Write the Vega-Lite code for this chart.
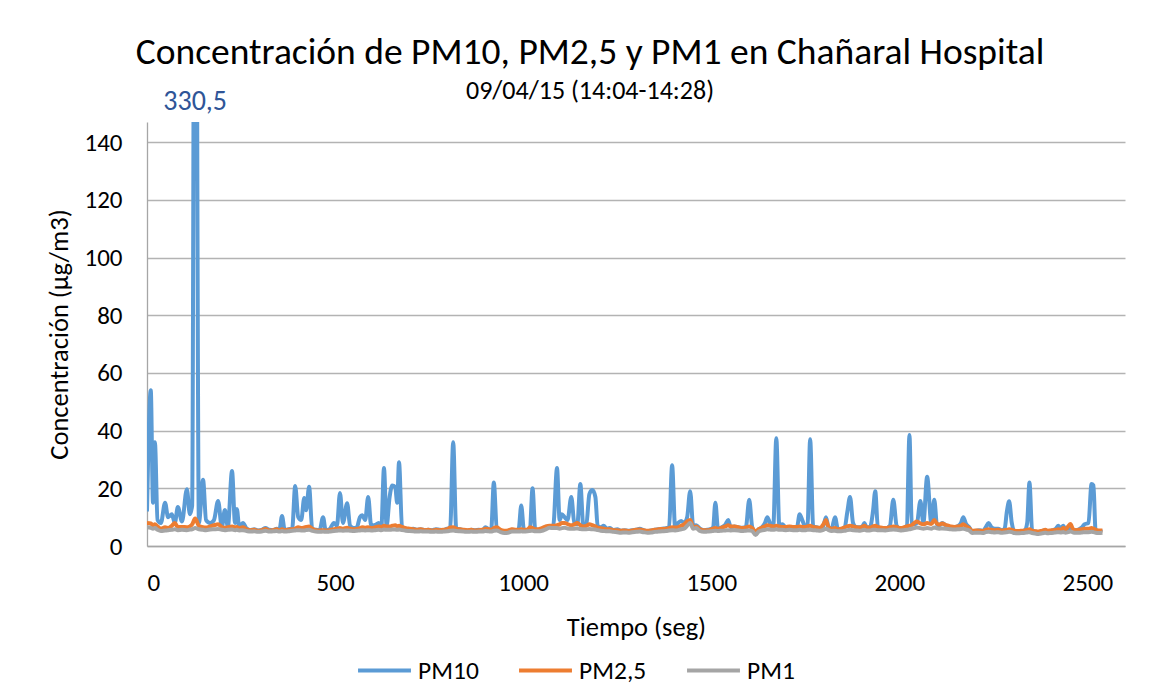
{
  "$schema": "https://vega.github.io/schema/vega-lite/v6.json",
  "width": 978,
  "height": 424,
  "autosize": {"type": "none"},
  "padding": {"left": 147, "top": 122, "right": 29, "bottom": 144},
  "background": "white",
  "title": {
    "text": "Concentración de PM10, PM2,5 y PM1 en Chañaral Hospital",
    "subtitle": "09/04/15 (14:04-14:28)",
    "anchor": "middle",
    "dx": -46,
    "offset": -16,
    "subtitlePadding": 7,
    "font": "Carlito, Lato, sans-serif",
    "subtitleFont": "Carlito, Lato, sans-serif",
    "fontSize": 37.5,
    "subtitleFontSize": 26,
    "fontWeight": "normal",
    "color": "#000000",
    "subtitleColor": "#000000"
  },
  "config": {
    "view": {"stroke": null},
    "font": "Carlito, Lato, sans-serif",
    "axis": {
      "labelFont": "Carlito, Lato, sans-serif",
      "titleFont": "Carlito, Lato, sans-serif",
      "labelFontSize": 25,
      "titleFontSize": 26.5,
      "titleFontWeight": "normal",
      "labelColor": "#000000",
      "titleColor": "#000000",
      "domainColor": "#A6A6A6",
      "domainWidth": 1.3,
      "ticks": false
    },
    "legend": {
      "labelFont": "Carlito, Lato, sans-serif",
      "labelFontSize": 25.5,
      "labelColor": "#000000"
    }
  },
  "datasets": {
    "pm": [
      {"t": 0, "PM10": 12, "PM25": 8, "PM1": 6.5},
      {"t": 10, "PM10": 54, "PM25": 7.8, "PM1": 6.3},
      {"t": 16, "PM10": 15, "PM25": 7.2, "PM1": 6},
      {"t": 21, "PM10": 36, "PM25": 7.5, "PM1": 6.2},
      {"t": 28, "PM10": 9, "PM25": 6.8, "PM1": 5.6},
      {"t": 37, "PM10": 8, "PM25": 6, "PM1": 5.2},
      {"t": 48, "PM10": 15, "PM25": 6.5, "PM1": 5.4},
      {"t": 56, "PM10": 10, "PM25": 6.2, "PM1": 5.5},
      {"t": 66, "PM10": 11, "PM25": 7, "PM1": 5.6},
      {"t": 74, "PM10": 8, "PM25": 8, "PM1": 5.8},
      {"t": 82, "PM10": 13.5, "PM25": 6.5, "PM1": 5.5},
      {"t": 93, "PM10": 8.5, "PM25": 6.6, "PM1": 5.6},
      {"t": 106, "PM10": 19.7, "PM25": 6.5, "PM1": 5.5},
      {"t": 114, "PM10": 11, "PM25": 6.8, "PM1": 5.7},
      {"t": 120, "PM10": 14, "PM25": 7.5, "PM1": 5.8},
      {"t": 128, "PM10": 330.5, "PM25": 9.5, "PM1": 6.2},
      {"t": 138, "PM10": 8, "PM25": 7, "PM1": 5.8},
      {"t": 149, "PM10": 23, "PM25": 6.5, "PM1": 5.6},
      {"t": 157, "PM10": 9, "PM25": 6.4, "PM1": 5.5},
      {"t": 168, "PM10": 8, "PM25": 6.8, "PM1": 5.7},
      {"t": 178, "PM10": 9, "PM25": 7.2, "PM1": 5.8},
      {"t": 189, "PM10": 15.6, "PM25": 7.5, "PM1": 5.9},
      {"t": 199, "PM10": 6.6, "PM25": 6.6, "PM1": 5.6},
      {"t": 207, "PM10": 12.5, "PM25": 6.3, "PM1": 5.5},
      {"t": 215, "PM10": 6.6, "PM25": 6.5, "PM1": 5.6},
      {"t": 226, "PM10": 26, "PM25": 6.8, "PM1": 5.7},
      {"t": 234, "PM10": 8, "PM25": 6.5, "PM1": 5.5},
      {"t": 239, "PM10": 12.8, "PM25": 6.6, "PM1": 5.6},
      {"t": 245, "PM10": 6.6, "PM25": 6.2, "PM1": 5.4},
      {"t": 255, "PM10": 8, "PM25": 6.5, "PM1": 5.5},
      {"t": 265, "PM10": 6, "PM25": 5.8, "PM1": 5.2},
      {"t": 275, "PM10": 5.5, "PM25": 5.5, "PM1": 5},
      {"t": 285, "PM10": 5.8, "PM25": 5.6, "PM1": 5.1},
      {"t": 295, "PM10": 5.4, "PM25": 5.3, "PM1": 4.9},
      {"t": 305, "PM10": 5.6, "PM25": 5.5, "PM1": 5},
      {"t": 315, "PM10": 6.2, "PM25": 5.9, "PM1": 5.3},
      {"t": 325, "PM10": 5.6, "PM25": 5.4, "PM1": 5},
      {"t": 335, "PM10": 5.5, "PM25": 5.5, "PM1": 5.1},
      {"t": 345, "PM10": 6, "PM25": 5.8, "PM1": 5.2},
      {"t": 352, "PM10": 5.6, "PM25": 5.4, "PM1": 5},
      {"t": 359, "PM10": 10.4, "PM25": 5.8, "PM1": 5.2},
      {"t": 366, "PM10": 5.5, "PM25": 5.5, "PM1": 5},
      {"t": 376, "PM10": 5.8, "PM25": 5.6, "PM1": 5.1},
      {"t": 386, "PM10": 6, "PM25": 5.8, "PM1": 5.3},
      {"t": 394, "PM10": 20.8, "PM25": 6, "PM1": 5.4},
      {"t": 402, "PM10": 10, "PM25": 6.5, "PM1": 5.5},
      {"t": 410, "PM10": 9, "PM25": 6.2, "PM1": 5.4},
      {"t": 418, "PM10": 16.6, "PM25": 6.4, "PM1": 5.4},
      {"t": 423, "PM10": 12.4, "PM25": 6.6, "PM1": 5.5},
      {"t": 431, "PM10": 20.5, "PM25": 6.8, "PM1": 5.6},
      {"t": 439, "PM10": 6, "PM25": 6, "PM1": 5.3},
      {"t": 449, "PM10": 5.6, "PM25": 5.5, "PM1": 5},
      {"t": 459, "PM10": 5.5, "PM25": 5.4, "PM1": 4.9},
      {"t": 468, "PM10": 10, "PM25": 5.5, "PM1": 5},
      {"t": 475, "PM10": 5.5, "PM25": 5.4, "PM1": 4.9},
      {"t": 485, "PM10": 5.8, "PM25": 5.5, "PM1": 5},
      {"t": 497, "PM10": 8, "PM25": 5.8, "PM1": 5.2},
      {"t": 505, "PM10": 7, "PM25": 6, "PM1": 5.3},
      {"t": 513, "PM10": 18.4, "PM25": 6.2, "PM1": 5.4},
      {"t": 521, "PM10": 8, "PM25": 6, "PM1": 5.3},
      {"t": 532, "PM10": 14.8, "PM25": 6.3, "PM1": 5.4},
      {"t": 540, "PM10": 7, "PM25": 6, "PM1": 5.3},
      {"t": 550, "PM10": 6.2, "PM25": 5.8, "PM1": 5.2},
      {"t": 558, "PM10": 6.5, "PM25": 5.9, "PM1": 5.3},
      {"t": 566, "PM10": 10, "PM25": 6.2, "PM1": 5.4},
      {"t": 572, "PM10": 10.7, "PM25": 6.5, "PM1": 5.5},
      {"t": 580, "PM10": 9, "PM25": 6.3, "PM1": 5.4},
      {"t": 588, "PM10": 17, "PM25": 6.5, "PM1": 5.5},
      {"t": 596, "PM10": 7, "PM25": 6.2, "PM1": 5.4},
      {"t": 607, "PM10": 7.3, "PM25": 6.5, "PM1": 5.5},
      {"t": 616, "PM10": 8, "PM25": 6.8, "PM1": 5.6},
      {"t": 623, "PM10": 6.5, "PM25": 6.6, "PM1": 5.5},
      {"t": 630, "PM10": 27, "PM25": 7, "PM1": 5.7},
      {"t": 637, "PM10": 7, "PM25": 6.8, "PM1": 5.6},
      {"t": 645, "PM10": 17, "PM25": 6.8, "PM1": 5.6},
      {"t": 652, "PM10": 21, "PM25": 7, "PM1": 5.7},
      {"t": 660, "PM10": 20.5, "PM25": 7.2, "PM1": 5.7},
      {"t": 665, "PM10": 15, "PM25": 6.8, "PM1": 5.6},
      {"t": 670, "PM10": 29, "PM25": 7, "PM1": 5.7},
      {"t": 678, "PM10": 6.5, "PM25": 6.6, "PM1": 5.5},
      {"t": 688, "PM10": 6, "PM25": 6.2, "PM1": 5.3},
      {"t": 698, "PM10": 5.8, "PM25": 6, "PM1": 5.2},
      {"t": 708, "PM10": 6, "PM25": 5.8, "PM1": 5.1},
      {"t": 718, "PM10": 5.6, "PM25": 5.6, "PM1": 5},
      {"t": 728, "PM10": 5.8, "PM25": 5.8, "PM1": 5.1},
      {"t": 738, "PM10": 5.5, "PM25": 5.5, "PM1": 5},
      {"t": 748, "PM10": 5.6, "PM25": 5.6, "PM1": 5},
      {"t": 758, "PM10": 5.5, "PM25": 5.4, "PM1": 4.9},
      {"t": 768, "PM10": 5.8, "PM25": 5.6, "PM1": 5},
      {"t": 778, "PM10": 5.6, "PM25": 5.5, "PM1": 4.9},
      {"t": 788, "PM10": 5.5, "PM25": 5.6, "PM1": 5},
      {"t": 798, "PM10": 6, "PM25": 5.8, "PM1": 5.1},
      {"t": 806, "PM10": 6.2, "PM25": 6.4, "PM1": 5.3},
      {"t": 814, "PM10": 36, "PM25": 6.5, "PM1": 5.4},
      {"t": 822, "PM10": 6, "PM25": 6, "PM1": 5.2},
      {"t": 832, "PM10": 5.8, "PM25": 5.8, "PM1": 5.1},
      {"t": 842, "PM10": 5.5, "PM25": 5.6, "PM1": 5},
      {"t": 852, "PM10": 5.4, "PM25": 5.5, "PM1": 4.9},
      {"t": 862, "PM10": 5.6, "PM25": 5.6, "PM1": 5},
      {"t": 872, "PM10": 5.5, "PM25": 5.4, "PM1": 4.9},
      {"t": 882, "PM10": 5.6, "PM25": 5.5, "PM1": 5},
      {"t": 892, "PM10": 5.5, "PM25": 5.6, "PM1": 5},
      {"t": 900, "PM10": 6.5, "PM25": 6, "PM1": 5.2},
      {"t": 908, "PM10": 5.8, "PM25": 5.8, "PM1": 5.1},
      {"t": 915, "PM10": 5.5, "PM25": 5.6, "PM1": 5},
      {"t": 922, "PM10": 22, "PM25": 6.2, "PM1": 5.3},
      {"t": 930, "PM10": 6, "PM25": 6.5, "PM1": 5.4},
      {"t": 940, "PM10": 5.2, "PM25": 5.6, "PM1": 4.8},
      {"t": 950, "PM10": 5, "PM25": 5.3, "PM1": 4.5},
      {"t": 960, "PM10": 5.2, "PM25": 5.4, "PM1": 4.6},
      {"t": 970, "PM10": 5.6, "PM25": 5.8, "PM1": 5},
      {"t": 980, "PM10": 5.5, "PM25": 5.6, "PM1": 5},
      {"t": 988, "PM10": 5.8, "PM25": 5.6, "PM1": 5},
      {"t": 995, "PM10": 14, "PM25": 5.8, "PM1": 5.1},
      {"t": 1002, "PM10": 5.6, "PM25": 5.6, "PM1": 5},
      {"t": 1012, "PM10": 5.5, "PM25": 5.7, "PM1": 5.1},
      {"t": 1018, "PM10": 6, "PM25": 6.5, "PM1": 5.2},
      {"t": 1025, "PM10": 20, "PM25": 6.2, "PM1": 5.3},
      {"t": 1032, "PM10": 5.8, "PM25": 5.8, "PM1": 5.1},
      {"t": 1040, "PM10": 5.6, "PM25": 5.8, "PM1": 5.1},
      {"t": 1050, "PM10": 6, "PM25": 6.2, "PM1": 5.3},
      {"t": 1060, "PM10": 6.5, "PM25": 6.8, "PM1": 5.8},
      {"t": 1070, "PM10": 6.8, "PM25": 7, "PM1": 6.3},
      {"t": 1080, "PM10": 7, "PM25": 7, "PM1": 6.2},
      {"t": 1090, "PM10": 27, "PM25": 7.2, "PM1": 6.2},
      {"t": 1097, "PM10": 9, "PM25": 7.5, "PM1": 6},
      {"t": 1103, "PM10": 11, "PM25": 8, "PM1": 6.2},
      {"t": 1110, "PM10": 10, "PM25": 8, "PM1": 6.3},
      {"t": 1118, "PM10": 9, "PM25": 7.6, "PM1": 6.1},
      {"t": 1128, "PM10": 17, "PM25": 7.2, "PM1": 6},
      {"t": 1136, "PM10": 8, "PM25": 7.5, "PM1": 6},
      {"t": 1144, "PM10": 7.5, "PM25": 8, "PM1": 6.1},
      {"t": 1152, "PM10": 21.5, "PM25": 7.2, "PM1": 5.9},
      {"t": 1160, "PM10": 7, "PM25": 6.8, "PM1": 5.8},
      {"t": 1168, "PM10": 7.5, "PM25": 7, "PM1": 5.8},
      {"t": 1176, "PM10": 18, "PM25": 7.5, "PM1": 5.9},
      {"t": 1184, "PM10": 19.4, "PM25": 7.2, "PM1": 5.8},
      {"t": 1192, "PM10": 17, "PM25": 6.8, "PM1": 5.7},
      {"t": 1198, "PM10": 7, "PM25": 6.4, "PM1": 5.5},
      {"t": 1206, "PM10": 6.5, "PM25": 6.2, "PM1": 5.3},
      {"t": 1214, "PM10": 7, "PM25": 6, "PM1": 5.2},
      {"t": 1222, "PM10": 6, "PM25": 5.8, "PM1": 5.1},
      {"t": 1230, "PM10": 6.2, "PM25": 5.8, "PM1": 5.1},
      {"t": 1240, "PM10": 5.5, "PM25": 5.5, "PM1": 4.9},
      {"t": 1250, "PM10": 5.8, "PM25": 5.5, "PM1": 4.8},
      {"t": 1260, "PM10": 5.3, "PM25": 5.3, "PM1": 4.6},
      {"t": 1270, "PM10": 5.5, "PM25": 5.4, "PM1": 4.7},
      {"t": 1280, "PM10": 5.3, "PM25": 5.2, "PM1": 4.6},
      {"t": 1290, "PM10": 5.5, "PM25": 5.4, "PM1": 4.8},
      {"t": 1300, "PM10": 5.6, "PM25": 5.6, "PM1": 4.9},
      {"t": 1310, "PM10": 6, "PM25": 5.7, "PM1": 5},
      {"t": 1320, "PM10": 5.5, "PM25": 5.5, "PM1": 4.8},
      {"t": 1330, "PM10": 5.2, "PM25": 5.3, "PM1": 4.6},
      {"t": 1340, "PM10": 5.4, "PM25": 5.4, "PM1": 4.7},
      {"t": 1350, "PM10": 5.6, "PM25": 5.6, "PM1": 4.9},
      {"t": 1360, "PM10": 5.8, "PM25": 5.8, "PM1": 5},
      {"t": 1370, "PM10": 6, "PM25": 5.9, "PM1": 5.1},
      {"t": 1380, "PM10": 6.2, "PM25": 6, "PM1": 5.2},
      {"t": 1388, "PM10": 6.5, "PM25": 6.2, "PM1": 5.4},
      {"t": 1396, "PM10": 28, "PM25": 6.5, "PM1": 5.5},
      {"t": 1404, "PM10": 6.5, "PM25": 6.4, "PM1": 5.4},
      {"t": 1412, "PM10": 8, "PM25": 6.5, "PM1": 5.5},
      {"t": 1420, "PM10": 8.7, "PM25": 7, "PM1": 5.8},
      {"t": 1428, "PM10": 8, "PM25": 7.5, "PM1": 6},
      {"t": 1436, "PM10": 10, "PM25": 8.5, "PM1": 7},
      {"t": 1444, "PM10": 19, "PM25": 9, "PM1": 8},
      {"t": 1452, "PM10": 7, "PM25": 6.5, "PM1": 6},
      {"t": 1460, "PM10": 7.2, "PM25": 6.8, "PM1": 6.2},
      {"t": 1470, "PM10": 6, "PM25": 5.8, "PM1": 5.2},
      {"t": 1480, "PM10": 5.5, "PM25": 5.5, "PM1": 4.9},
      {"t": 1490, "PM10": 5.6, "PM25": 5.5, "PM1": 5},
      {"t": 1500, "PM10": 6, "PM25": 5.8, "PM1": 5.1},
      {"t": 1505, "PM10": 6.5, "PM25": 6, "PM1": 5.2},
      {"t": 1511, "PM10": 15, "PM25": 6.2, "PM1": 5.3},
      {"t": 1518, "PM10": 6, "PM25": 6, "PM1": 5.2},
      {"t": 1528, "PM10": 6.5, "PM25": 6.4, "PM1": 5.3},
      {"t": 1538, "PM10": 7.5, "PM25": 6.8, "PM1": 5.4},
      {"t": 1545, "PM10": 9, "PM25": 7.2, "PM1": 5.5},
      {"t": 1552, "PM10": 6.5, "PM25": 6.8, "PM1": 5.4},
      {"t": 1562, "PM10": 6.8, "PM25": 6.8, "PM1": 5.5},
      {"t": 1572, "PM10": 6.5, "PM25": 6.5, "PM1": 5.4},
      {"t": 1582, "PM10": 6.3, "PM25": 6.2, "PM1": 5.2},
      {"t": 1592, "PM10": 6.5, "PM25": 6.4, "PM1": 5.3},
      {"t": 1601, "PM10": 16, "PM25": 6.8, "PM1": 5.4},
      {"t": 1609, "PM10": 6.5, "PM25": 6.2, "PM1": 5.2},
      {"t": 1618, "PM10": 4.8, "PM25": 5, "PM1": 3.8},
      {"t": 1626, "PM10": 5.8, "PM25": 5.8, "PM1": 5},
      {"t": 1635, "PM10": 6.5, "PM25": 6.4, "PM1": 5.4},
      {"t": 1643, "PM10": 8, "PM25": 6.8, "PM1": 5.6},
      {"t": 1649, "PM10": 10, "PM25": 7.2, "PM1": 5.8},
      {"t": 1656, "PM10": 8, "PM25": 7, "PM1": 5.7},
      {"t": 1665, "PM10": 7, "PM25": 6.8, "PM1": 5.6},
      {"t": 1673, "PM10": 37.4, "PM25": 7, "PM1": 5.8},
      {"t": 1681, "PM10": 7, "PM25": 6.8, "PM1": 5.6},
      {"t": 1689, "PM10": 7.5, "PM25": 6.6, "PM1": 5.6},
      {"t": 1698, "PM10": 6.5, "PM25": 6.6, "PM1": 5.5},
      {"t": 1708, "PM10": 6.5, "PM25": 6.8, "PM1": 5.6},
      {"t": 1718, "PM10": 6.3, "PM25": 6.6, "PM1": 5.5},
      {"t": 1728, "PM10": 6.5, "PM25": 6.6, "PM1": 5.5},
      {"t": 1735, "PM10": 11, "PM25": 6.8, "PM1": 5.6},
      {"t": 1742, "PM10": 9, "PM25": 6.6, "PM1": 5.5},
      {"t": 1750, "PM10": 6.8, "PM25": 6.6, "PM1": 5.5},
      {"t": 1756, "PM10": 7, "PM25": 6.8, "PM1": 5.6},
      {"t": 1763, "PM10": 37, "PM25": 7, "PM1": 5.6},
      {"t": 1771, "PM10": 6.8, "PM25": 6.6, "PM1": 5.5},
      {"t": 1780, "PM10": 6.5, "PM25": 6.4, "PM1": 5.4},
      {"t": 1790, "PM10": 6.2, "PM25": 6.3, "PM1": 5.3},
      {"t": 1798, "PM10": 7, "PM25": 7.5, "PM1": 5.6},
      {"t": 1805, "PM10": 10, "PM25": 9, "PM1": 6},
      {"t": 1812, "PM10": 6.5, "PM25": 6.5, "PM1": 5.5},
      {"t": 1820, "PM10": 6, "PM25": 6, "PM1": 5.2},
      {"t": 1829, "PM10": 10, "PM25": 6.2, "PM1": 5.3},
      {"t": 1837, "PM10": 5.8, "PM25": 5.8, "PM1": 5.1},
      {"t": 1846, "PM10": 5.8, "PM25": 6, "PM1": 5.1},
      {"t": 1855, "PM10": 6.5, "PM25": 6.5, "PM1": 5.3},
      {"t": 1862, "PM10": 12, "PM25": 6.8, "PM1": 5.5},
      {"t": 1869, "PM10": 17, "PM25": 7, "PM1": 5.6},
      {"t": 1877, "PM10": 8, "PM25": 6.8, "PM1": 5.5},
      {"t": 1886, "PM10": 6.5, "PM25": 6.5, "PM1": 5.4},
      {"t": 1896, "PM10": 6.5, "PM25": 6.4, "PM1": 5.3},
      {"t": 1903, "PM10": 7, "PM25": 6.8, "PM1": 5.5},
      {"t": 1907, "PM10": 8, "PM25": 7, "PM1": 5.6},
      {"t": 1913, "PM10": 6.5, "PM25": 6.5, "PM1": 5.4},
      {"t": 1922, "PM10": 6.5, "PM25": 6.4, "PM1": 5.4},
      {"t": 1930, "PM10": 12, "PM25": 6.8, "PM1": 5.6},
      {"t": 1936, "PM10": 19, "PM25": 7, "PM1": 5.6},
      {"t": 1943, "PM10": 6.5, "PM25": 6.6, "PM1": 5.5},
      {"t": 1950, "PM10": 6.2, "PM25": 6.4, "PM1": 5.5},
      {"t": 1963, "PM10": 6, "PM25": 6.2, "PM1": 5.4},
      {"t": 1975, "PM10": 7, "PM25": 6.5, "PM1": 5.6},
      {"t": 1984, "PM10": 16, "PM25": 6.8, "PM1": 5.7},
      {"t": 1993, "PM10": 7, "PM25": 6.6, "PM1": 5.6},
      {"t": 2003, "PM10": 6, "PM25": 6.2, "PM1": 5.4},
      {"t": 2012, "PM10": 6.3, "PM25": 6.4, "PM1": 5.5},
      {"t": 2020, "PM10": 7, "PM25": 6.8, "PM1": 5.6},
      {"t": 2027, "PM10": 38.5, "PM25": 7, "PM1": 5.8},
      {"t": 2033, "PM10": 8, "PM25": 7.2, "PM1": 6},
      {"t": 2040, "PM10": 7.5, "PM25": 8, "PM1": 6.2},
      {"t": 2047, "PM10": 8, "PM25": 8.5, "PM1": 6.4},
      {"t": 2056, "PM10": 15.6, "PM25": 7.8, "PM1": 6.2},
      {"t": 2064, "PM10": 8, "PM25": 7.5, "PM1": 6},
      {"t": 2074, "PM10": 24, "PM25": 8, "PM1": 6.2},
      {"t": 2085, "PM10": 8, "PM25": 7.6, "PM1": 6},
      {"t": 2093, "PM10": 16, "PM25": 9, "PM1": 6.4},
      {"t": 2100, "PM10": 7.5, "PM25": 7.8, "PM1": 6.1},
      {"t": 2106, "PM10": 7, "PM25": 7.4, "PM1": 6},
      {"t": 2114, "PM10": 8, "PM25": 7.8, "PM1": 6.1},
      {"t": 2125, "PM10": 7, "PM25": 7.2, "PM1": 6},
      {"t": 2136, "PM10": 6.5, "PM25": 6.8, "PM1": 5.8},
      {"t": 2146, "PM10": 6.5, "PM25": 6.6, "PM1": 5.7},
      {"t": 2157, "PM10": 7, "PM25": 6.8, "PM1": 5.8},
      {"t": 2164, "PM10": 8, "PM25": 7, "PM1": 5.9},
      {"t": 2170, "PM10": 10, "PM25": 7.5, "PM1": 6},
      {"t": 2178, "PM10": 7.5, "PM25": 6.8, "PM1": 5.7},
      {"t": 2186, "PM10": 6.5, "PM25": 6.2, "PM1": 5.4},
      {"t": 2194, "PM10": 5, "PM25": 5.2, "PM1": 4.5},
      {"t": 2202, "PM10": 5.2, "PM25": 5.4, "PM1": 4.6},
      {"t": 2212, "PM10": 5.5, "PM25": 5.3, "PM1": 4.6},
      {"t": 2222, "PM10": 5.3, "PM25": 5.2, "PM1": 4.5},
      {"t": 2230, "PM10": 6.5, "PM25": 5.6, "PM1": 4.8},
      {"t": 2237, "PM10": 8, "PM25": 5.8, "PM1": 4.9},
      {"t": 2245, "PM10": 6.5, "PM25": 5.6, "PM1": 4.8},
      {"t": 2254, "PM10": 6, "PM25": 5.5, "PM1": 4.7},
      {"t": 2263, "PM10": 6, "PM25": 5.6, "PM1": 4.8},
      {"t": 2272, "PM10": 5.5, "PM25": 5.4, "PM1": 4.6},
      {"t": 2280, "PM10": 6, "PM25": 5.5, "PM1": 4.7},
      {"t": 2286, "PM10": 12, "PM25": 5.6, "PM1": 4.8},
      {"t": 2292, "PM10": 15.5, "PM25": 5.8, "PM1": 4.9},
      {"t": 2299, "PM10": 8, "PM25": 5.6, "PM1": 4.8},
      {"t": 2306, "PM10": 5, "PM25": 5.3, "PM1": 4.5},
      {"t": 2316, "PM10": 5, "PM25": 5.2, "PM1": 4.4},
      {"t": 2326, "PM10": 5.1, "PM25": 5.3, "PM1": 4.5},
      {"t": 2334, "PM10": 5.5, "PM25": 5.4, "PM1": 4.6},
      {"t": 2340, "PM10": 8, "PM25": 5.6, "PM1": 4.7},
      {"t": 2346, "PM10": 22, "PM25": 5.8, "PM1": 4.8},
      {"t": 2353, "PM10": 5.5, "PM25": 5.3, "PM1": 4.5},
      {"t": 2362, "PM10": 5, "PM25": 5.1, "PM1": 4.3},
      {"t": 2370, "PM10": 4.8, "PM25": 5, "PM1": 4.2},
      {"t": 2380, "PM10": 5.2, "PM25": 5.3, "PM1": 4.4},
      {"t": 2388, "PM10": 5.5, "PM25": 5.6, "PM1": 4.6},
      {"t": 2395, "PM10": 5, "PM25": 5.3, "PM1": 4.4},
      {"t": 2402, "PM10": 5.2, "PM25": 5.4, "PM1": 4.5},
      {"t": 2410, "PM10": 5.5, "PM25": 5.5, "PM1": 4.6},
      {"t": 2416, "PM10": 6, "PM25": 5.6, "PM1": 4.7},
      {"t": 2423, "PM10": 7, "PM25": 5.8, "PM1": 4.8},
      {"t": 2429, "PM10": 6, "PM25": 5.6, "PM1": 4.7},
      {"t": 2436, "PM10": 7, "PM25": 6.2, "PM1": 4.8},
      {"t": 2442, "PM10": 5.5, "PM25": 5.8, "PM1": 4.6},
      {"t": 2449, "PM10": 6, "PM25": 6.8, "PM1": 4.8},
      {"t": 2455, "PM10": 6, "PM25": 7.6, "PM1": 5},
      {"t": 2462, "PM10": 5.5, "PM25": 5.8, "PM1": 4.7},
      {"t": 2470, "PM10": 5.5, "PM25": 5.5, "PM1": 4.6},
      {"t": 2478, "PM10": 5.8, "PM25": 5.6, "PM1": 4.6},
      {"t": 2486, "PM10": 6.5, "PM25": 5.8, "PM1": 4.7},
      {"t": 2492, "PM10": 7.5, "PM25": 6, "PM1": 4.8},
      {"t": 2503, "PM10": 8, "PM25": 6, "PM1": 4.8},
      {"t": 2511, "PM10": 21.5, "PM25": 6.2, "PM1": 4.9},
      {"t": 2516, "PM10": 21, "PM25": 6, "PM1": 4.8},
      {"t": 2522, "PM10": 5, "PM25": 5.6, "PM1": 4.6},
      {"t": 2530, "PM10": 5.2, "PM25": 5.4, "PM1": 4.5},
      {"t": 2540, "PM10": 5, "PM25": 5.4, "PM1": 4.6}
    ]
  },
  "data": {"name": "pm"},
  "layer": [
    {
      "mark": {"type": "line", "interpolate": "monotone", "strokeWidth": 4, "clip": true},
      "encoding": {
        "x": {
          "field": "t", "type": "quantitative",
          "scale": {"domain": [0, 2600], "nice": false},
          "axis": {"values": [0, 500, 1000, 1500, 2000, 2500], "format": "d", "grid": false, "labelPadding": 24, "titlePadding": 19},
          "title": "Tiempo (seg)"
        },
        "y": {
          "field": "PM10", "type": "quantitative",
          "scale": {"domain": [0, 147], "nice": false},
          "axis": {"values": [0, 20, 40, 60, 80, 100, 120, 140], "grid": true, "gridColor": "#B3B3B3", "gridWidth": 1.3, "labelPadding": 25, "titlePadding": 10},
          "title": "Concentración (µg/m3)"
        },
        "color": {
          "datum": "PM10",
          "scale": {"domain": ["PM10", "PM2,5", "PM1"], "range": ["#5B9BD5", "#ED7D31", "#A5A5A5"]},
          "legend": {
            "title": null,
            "orient": "none",
            "legendX": 209,
            "legendY": 520,
            "direction": "horizontal",
            "symbolType": "stroke",
            "symbolStrokeWidth": 4,
            "symbolSize": 2800,
            "labelOffset": 5,
            "columnPadding": 32
          }
        }
      }
    },
    {
      "mark": {"type": "line", "interpolate": "monotone", "strokeWidth": 4, "clip": true},
      "encoding": {
        "x": {"field": "t", "type": "quantitative"},
        "y": {"field": "PM25", "type": "quantitative"},
        "color": {"datum": "PM2,5"}
      }
    },
    {
      "mark": {"type": "line", "interpolate": "monotone", "strokeWidth": 4, "clip": true},
      "encoding": {
        "x": {"field": "t", "type": "quantitative"},
        "y": {"field": "PM1", "type": "quantitative"},
        "color": {"datum": "PM1"}
      }
    },
    {
      "data": {"values": [{"t": 128, "label": "330,5"}]},
      "mark": {"type": "text", "fontSize": 28, "font": "Carlito, Lato, sans-serif", "color": "#2F5597", "dy": -20, "clip": false},
      "encoding": {
        "x": {"field": "t", "type": "quantitative"},
        "y": {"datum": 147},
        "text": {"field": "label"}
      }
    }
  ]
}
